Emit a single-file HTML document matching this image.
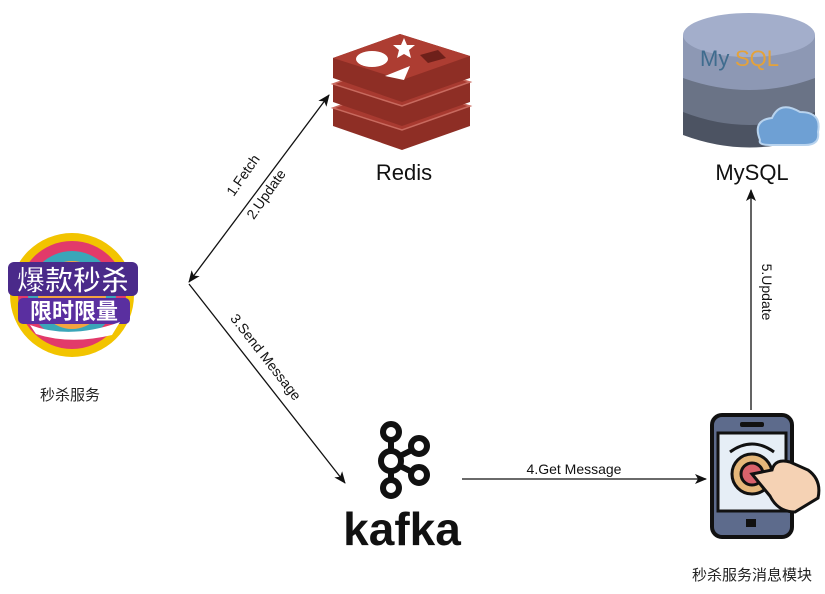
<!DOCTYPE html>
<html><head><meta charset="utf-8"><style>body{margin:0;background:#fff}svg{display:block}</style></head><body>
<svg width="825" height="594" viewBox="0 0 825 594" xmlns="http://www.w3.org/2000/svg" font-family="Liberation Sans, Noto Sans CJK SC, sans-serif">
<defs><marker id="a" markerWidth="12" markerHeight="10" refX="11" refY="5" orient="auto" markerUnits="userSpaceOnUse"><path d="M0,0 L12,5 L0,10 L3,5z" fill="#111"/></marker>
<marker id="b" markerWidth="12" markerHeight="10" refX="1" refY="5" orient="auto" markerUnits="userSpaceOnUse"><path d="M12,0 L0,5 L12,10 L9,5z" fill="#111"/></marker></defs>
<!-- left logo -->
<circle cx="72" cy="295" r="62" fill="#f2c400"/><circle cx="72" cy="295" r="54" fill="#e23a6a"/><circle cx="72" cy="295" r="44" fill="#3aa6b9"/><circle cx="72" cy="295" r="34" fill="#f4a340"/>
<rect x="8" y="262" width="130" height="34" rx="6" fill="#4a2a8a"/>
<text x="73" y="290" font-size="28" font-weight="bold" fill="#fff" text-anchor="middle" stroke="#4a2a8a" stroke-width="1">爆款秒杀</text>
<rect x="18" y="298" width="112" height="26" rx="5" fill="#5a2fa0"/>
<text x="74" y="319" font-size="22" font-weight="bold" fill="#fff" text-anchor="middle">限时限量</text>
<path d="M30,325 Q70,340 120,322 L112,335 Q70,345 36,334z" fill="#fff"/>
<text x="70" y="400" font-size="15" text-anchor="middle" fill="#222">秒杀服务</text>
<!-- redis -->
<g>
<path d="M333,108 L400,84 L470,106 L470,126 L402,150 L333,126z" fill="#8e2e25"/>
<path d="M333,108 L400,84 L470,106 L402,130z" fill="#a83a30" stroke="#c86a5f" stroke-width="1.5"/>
<path d="M333,84 L400,60 L470,82 L470,102 L402,126 L333,102z" fill="#8e2e25"/>
<path d="M333,84 L400,60 L470,82 L402,106z" fill="#a83a30" stroke="#c86a5f" stroke-width="1.5"/>
<path d="M333,58 L400,34 L470,56 L470,78 L402,102 L333,78z" fill="#8e2e25"/>
<path d="M333,58 L400,34 L470,56 L402,80z" fill="#ad3d32"/>
</g>
<ellipse cx="372" cy="59" rx="16" ry="8" fill="#fff"/><path d="M385,76 L410,66 L404,80z" fill="#fff"/><path d="M404,38 l3,7 8,0 -6,5 2,8 -7,-4 -7,4 2,-8 -6,-5 8,0z" fill="#fff"/><path d="M420,55 L438,50 L446,58 L428,63z" fill="#6e201a"/>
<text x="404" y="180" font-size="22" text-anchor="middle" fill="#111">Redis</text>
<!-- mysql -->
<path d="M683,110 L683,135 Q750,160 815,135 L815,110z" fill="#4c5362"/>
<path d="M683,75 L683,112 Q750,138 815,112 L815,75z" fill="#6a7386"/>
<path d="M683,35 L683,78 Q750,102 815,78 L815,35z" fill="#8d98b4"/>
<ellipse cx="749" cy="35" rx="66" ry="22" fill="#a3aecb"/>
<text x="700" y="66" font-size="22" fill="#3f6c8e">My</text><text x="735" y="66" font-size="22" fill="#e4a23a">SQL</text>
<path d="M760,140 Q752,120 772,118 Q780,100 800,112 Q822,112 818,132 Q820,145 805,145 L770,145 Q758,145 760,140z" fill="#6ea0d4" stroke="#b8d3ee" stroke-width="2"/>
<text x="752" y="180" font-size="22" text-anchor="middle" fill="#111">MySQL</text>
<!-- arrows -->
<line x1="189" y1="282" x2="329" y2="95" stroke="#111" stroke-width="1.3" marker-start="url(#b)" marker-end="url(#a)"/>
<line x1="189" y1="284" x2="345" y2="483" stroke="#111" stroke-width="1.3" marker-end="url(#a)"/>
<line x1="462" y1="479" x2="706" y2="479" stroke="#111" stroke-width="1.3" marker-end="url(#a)"/>
<line x1="751" y1="410" x2="751" y2="190" stroke="#111" stroke-width="1.3" marker-end="url(#a)"/>
<text transform="translate(247,178) rotate(-55)" font-size="14" text-anchor="middle" fill="#111">1.Fetch</text>
<text transform="translate(270,197) rotate(-55)" font-size="14" text-anchor="middle" fill="#111">2.Update</text>
<text transform="translate(262,360) rotate(52)" font-size="14" text-anchor="middle" fill="#111">3.Send Message</text>
<text x="574" y="474" font-size="14" text-anchor="middle" fill="#111">4.Get Message</text>
<text transform="translate(762,292) rotate(90)" font-size="14" text-anchor="middle" fill="#111">5.Update</text>
<!-- kafka -->
<g fill="none" stroke="#111" stroke-width="6"><circle cx="391" cy="432" r="8"/><circle cx="391" cy="461" r="10"/><circle cx="391" cy="488" r="8"/><circle cx="419" cy="446" r="8"/><circle cx="419" cy="475" r="8"/>
<line x1="391" y1="440" x2="391" y2="451"/><line x1="391" y1="471" x2="391" y2="480"/><line x1="400" y1="456" x2="412" y2="450"/><line x1="400" y1="466" x2="412" y2="472"/></g>
<text x="402" y="545" font-size="46" font-weight="bold" text-anchor="middle" fill="#111">kafka</text>
<!-- phone -->
<rect x="712" y="415" width="80" height="122" rx="10" fill="#5d6b8c" stroke="#111" stroke-width="4"/>
<rect x="718" y="433" width="68" height="78" fill="#e6eef6" stroke="#111" stroke-width="3"/>
<rect x="740" y="422" width="24" height="5" rx="2" fill="#111"/><rect x="746" y="519" width="10" height="8" fill="#111"/>
<circle cx="752" cy="474" r="20" fill="#e5b77a" stroke="#111" stroke-width="3"/><circle cx="752" cy="474" r="11" fill="#d9626b" stroke="#111" stroke-width="3"/>
<path d="M730,452 Q752,436 774,452" fill="none" stroke="#111" stroke-width="3"/>
<path d="M752,474 L770,496 Q778,512 795,512 L818,498 Q822,480 808,470 L790,462 Q775,458 772,470z" fill="#f5d2b4" stroke="#111" stroke-width="3"/>
<text x="752" y="580" font-size="15" text-anchor="middle" fill="#222">秒杀服务消息模块</text>
</svg>
</body></html>
